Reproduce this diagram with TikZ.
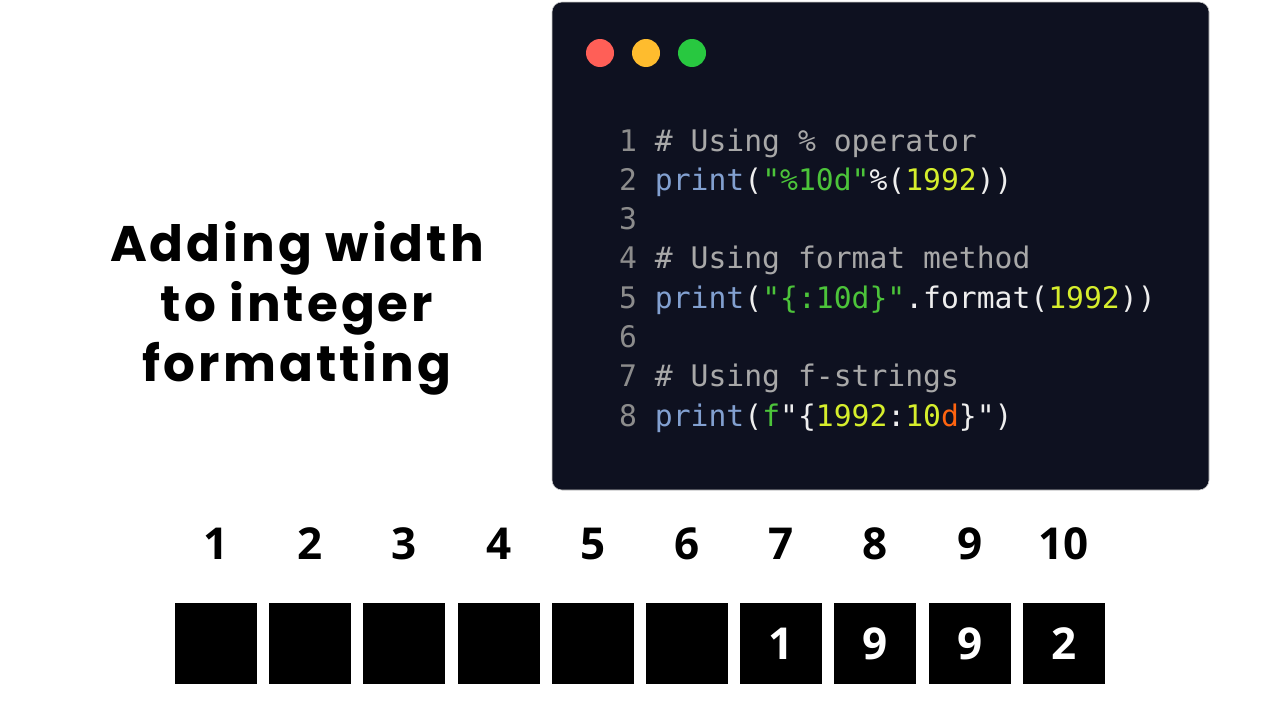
\documentclass[tikz,border=0pt]{standalone}
\usepackage{fontspec}
\setmainfont{Poppins}
\newfontfamily\titlefont[LetterSpace=6]{Poppins}
\newfontfamily\digitfont{Open Sans}
\newfontfamily\codefont{DejaVu Sans Mono}
\definecolor{panelbg}{HTML}{0E1120}
\definecolor{lineno}{HTML}{8C8C8C}
\definecolor{cmt}{HTML}{A8A8A8}
\definecolor{fn}{HTML}{82A0D0}
\definecolor{str}{HTML}{4CC43A}
\definecolor{num}{HTML}{D6EE2C}
\definecolor{punct}{HTML}{EEEEEE}
\definecolor{fmt}{HTML}{FF6410}
\newcommand{\lnoc}[1]{\textcolor{lineno}{#1}}
\newcommand{\cmtc}[1]{\textcolor{cmt}{#1}}
\newcommand{\fnc}[1]{\textcolor{fn}{#1}}
\newcommand{\strc}[1]{\textcolor{str}{#1}}
\newcommand{\numc}[1]{\textcolor{num}{#1}}
\tikzset{
  codeline/.style={anchor=base west,inner sep=0pt,text=punct,
    font=\codefont\fontsize{29.7}{36}\selectfont},
  windot/.style={circle,minimum size=28pt,inner sep=0pt},
  poslabel/.style={anchor=base,inner sep=0pt,font=\digitfont\bfseries\fontsize{44}{50}\selectfont},
  cellbox/.style={fill=black,text=white,minimum width=82pt,minimum height=81pt,inner sep=0pt,
    font=\digitfont\bfseries\fontsize{44}{50}\selectfont}
}
\begin{document}
\begin{tikzpicture}[x=1pt,y=-1pt]
        \useasboundingbox (0,0) rectangle (1280,720);
        % title
        \node[align=center,font=\titlefont\bfseries\fontsize{50}{60}\selectfont] (title) at (297,308) {Adding width\\to integer\\formatting};
        % code window
        \node[fill=panelbg,draw=gray!40,line width=0.6pt,rounded corners=10pt,minimum width=657pt,minimum height=488pt] (panel) at (880.5,246) {};
        \node[windot,fill={rgb,255:red,255;green,95;blue,87}] (red) at (600,53) {};
        \node[windot,fill={rgb,255:red,254;green,188;blue,46}] (yellow) at (646,53) {};
        \node[windot,fill={rgb,255:red,40;green,200;blue,64}] (green) at (692,53) {};
        \node[codeline] (l1) at (619,151) {\lnoc{1} \cmtc{\# Using \% operator}};
        \node[codeline] (l2) at (619,190.3) {\lnoc{2} \fnc{print}(\strc{"\%10d"}\%(\numc{1992}))};
        \node[codeline] (l3) at (619,229.6) {\lnoc{3}};
        \node[codeline] (l4) at (619,268.9) {\lnoc{4} \cmtc{\# Using format method}};
        \node[codeline] (l5) at (619,308.2) {\lnoc{5} \fnc{print}(\strc{"\{:10d\}"}.format(\numc{1992}))};
        \node[codeline] (l6) at (619,347.5) {\lnoc{6}};
        \node[codeline] (l7) at (619,386.8) {\lnoc{7} \cmtc{\# Using f-strings}};
        \node[codeline] (l8) at (619,426.1) {\lnoc{8} \fnc{print}(\strc{f}"\{\numc{1992}:\numc{10}\textcolor{fmt}{d}\}")};
        % positions
        \node[poslabel] (p1) at (216,559) {1};
        \node[poslabel] (p2) at (310.2,559) {2};
        \node[poslabel] (p3) at (404.4,559) {3};
        \node[poslabel] (p4) at (498.6,559) {4};
        \node[poslabel] (p5) at (592.8,559) {5};
        \node[poslabel] (p6) at (687,559) {6};
        \node[poslabel] (p7) at (781.2,559) {7};
        \node[poslabel] (p8) at (875.4,559) {8};
        \node[poslabel] (p9) at (969.6,559) {9};
        \node[poslabel] (p10) at (1063.8,559) {10};
        % cells
        \node[cellbox] (c1) at (216,643.5) {};
        \node[cellbox] (c2) at (310.2,643.5) {};
        \node[cellbox] (c3) at (404.4,643.5) {};
        \node[cellbox] (c4) at (498.6,643.5) {};
        \node[cellbox] (c5) at (592.8,643.5) {};
        \node[cellbox] (c6) at (687,643.5) {};
        \node[cellbox] (c7) at (781.2,643.5) {1};
        \node[cellbox] (c8) at (875.4,643.5) {9};
        \node[cellbox] (c9) at (969.6,643.5) {9};
        \node[cellbox] (c10) at (1063.8,643.5) {2};
    \end{tikzpicture}
\end{document}
